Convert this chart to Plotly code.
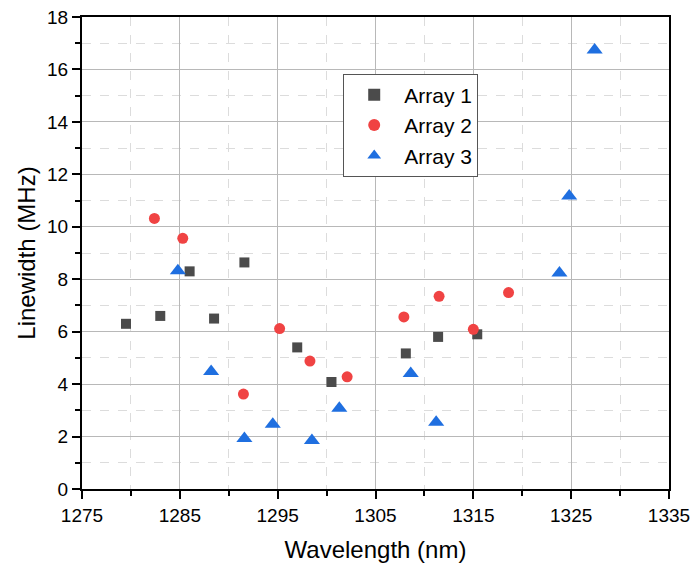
import plotly.graph_objects as go

# Linewidth measurements per laser array
array1_wl = [1279.5, 1283.0, 1286.0, 1288.5, 1291.6, 1297.0, 1300.5, 1308.1, 1311.4, 1315.4]
array1_lw = [6.30, 6.60, 8.30, 6.50, 8.64, 5.40, 4.08, 5.17, 5.80, 5.90]

array2_wl = [1282.4, 1285.3, 1291.5, 1295.2, 1298.3, 1302.1, 1307.9, 1311.5, 1315.0, 1318.6]
array2_lw = [10.32, 9.56, 3.62, 6.12, 4.88, 4.28, 6.56, 7.35, 6.09, 7.49]

array3_wl = [1284.8, 1288.2, 1291.6, 1294.5, 1298.5, 1301.3, 1308.6, 1311.2, 1323.8, 1324.8, 1327.4]
array3_lw = [8.32, 4.48, 1.93, 2.47, 1.85, 3.08, 4.40, 2.55, 8.24, 11.17, 16.74]

x_ticks = [1275, 1285, 1295, 1305, 1315, 1325, 1335]
y_ticks = [0, 2, 4, 6, 8, 10, 12, 14, 16, 18]

FONT = "Liberation Sans, Arial, sans-serif"

fig = go.Figure()
fig.add_trace(go.Scatter(
    x=array1_wl, y=array1_lw, mode="markers", name="Array 1",
    marker=dict(symbol="square", size=10, color="#4b4b4b"),
))
fig.add_trace(go.Scatter(
    x=array2_wl, y=array2_lw, mode="markers", name="Array 2",
    marker=dict(symbol="circle", size=11, color="#f04343"),
))
fig.add_trace(go.Scatter(
    x=array3_wl, y=array3_lw, mode="markers", name="Array 3",
    marker=dict(symbol="triangle-up", size=14, color="#1f6fe0"),
))

axis_common = dict(
    showline=True, linecolor="black", linewidth=2, mirror=True,
    ticks="outside", ticklen=8, tickwidth=2, tickcolor="black",
    showgrid=True, gridcolor="#b8b8b8", gridwidth=1,
    zeroline=False, automargin=False,
    tickfont=dict(family=FONT, size=19, color="black"),
)

fig.update_xaxes(
    range=[1275, 1335], tickvals=x_ticks,
    title=dict(text="Wavelength (nm)", font=dict(family=FONT, size=24, color="black"), standoff=16),
    minor=dict(dtick=5, tick0=1275, ticks="outside", ticklen=5, tickwidth=1.5, tickcolor="black",
               showgrid=True, gridcolor="#dcdcdc", griddash="dash", gridwidth=1),
    **axis_common,
)
fig.update_yaxes(
    range=[0, 18], tickvals=y_ticks,
    title=dict(text="Linewidth (MHz)", font=dict(family=FONT, size=24, color="black"), standoff=5),
    minor=dict(dtick=1, tick0=0, ticks="outside", ticklen=5, tickwidth=1.5, tickcolor="black",
               showgrid=True, gridcolor="#dcdcdc", griddash="dash", gridwidth=1),
    **axis_common,
)

fig.update_layout(
    width=694, height=567,
    margin=dict(l=82, r=25, t=17, b=78),
    plot_bgcolor="white", paper_bgcolor="white",
    font=dict(family=FONT, color="black"),
    legend=dict(
        x=0.445, y=0.88, xanchor="left", yanchor="top",
        bgcolor="white", bordercolor="#555555", borderwidth=1,
        font=dict(family=FONT, size=21, color="black"),
        itemsizing="constant", itemwidth=50, tracegroupgap=0,
    ),
    showlegend=True,
)

fig.write_html("out.html")
